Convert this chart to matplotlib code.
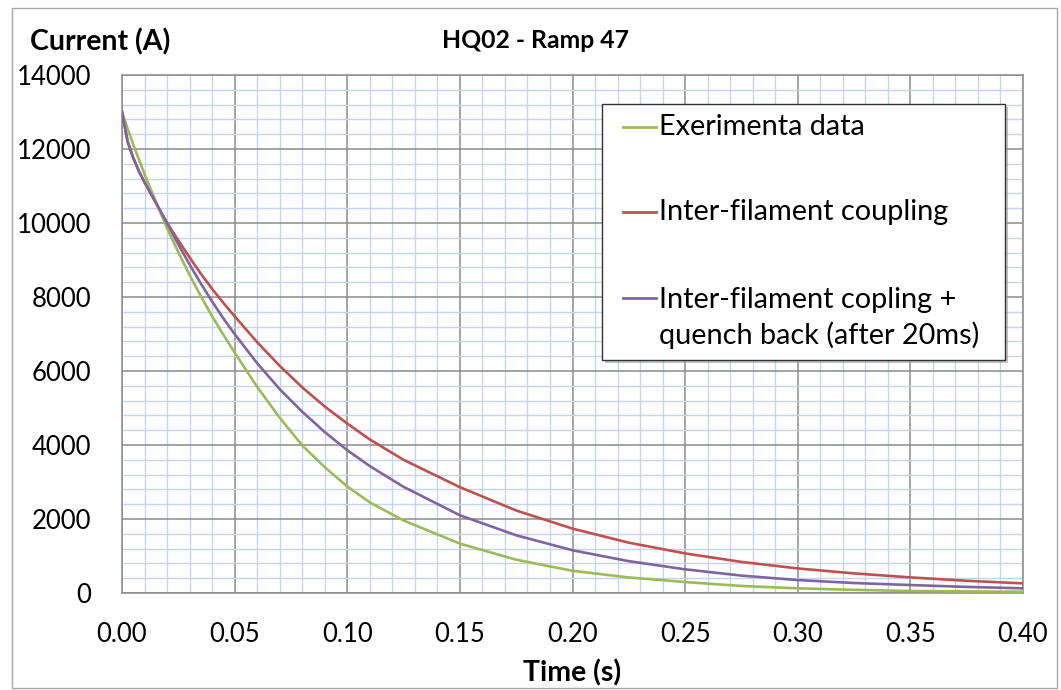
import matplotlib
matplotlib.use('Agg')
import matplotlib.pyplot as plt
from matplotlib.patches import Rectangle
from matplotlib.lines import Line2D
from matplotlib.ticker import MultipleLocator, FormatStrFormatter

# ---------------- data ----------------
time_s = [0.0, 0.0025, 0.005, 0.0075, 0.01, 0.015, 0.02, 0.025, 0.03, 0.035,
          0.04, 0.045, 0.05, 0.06, 0.07, 0.08, 0.09, 0.10, 0.11, 0.125,
          0.15, 0.175, 0.20, 0.225, 0.25, 0.275, 0.30, 0.325, 0.35, 0.375, 0.40]

experimental = [13000, 12550, 12120, 11720, 11320, 10580, 9860, 9210, 8600, 8020,
                7480, 6980, 6500, 5570, 4740, 3990, 3400, 2880, 2450, 1960,
                1335, 900, 600, 420, 296, 190, 126, 85, 54, 42, 35]

interfilament = [13000, 12200, 11760, 11400, 11100, 10550, 10000, 9530, 9070, 8630,
                 8220, 7840, 7480, 6780, 6140, 5560, 5040, 4580, 4150, 3600,
                 2860, 2230, 1740, 1360, 1070, 840, 664, 530, 422, 330, 260]

quenchback = [13000, 12200, 11760, 11400, 11100, 10550, 10000, 9420, 8880, 8365,
              7880, 7420, 7000, 6210, 5510, 4900, 4350, 3860, 3430, 2870,
              2100, 1560, 1155, 860, 640, 470, 350, 270, 215, 165, 126]

series_labels = ["Exerimenta data", "Inter-filament coupling",
                 "Inter-filament copling +\nquench back (after 20ms)"]
series_colors = ["#9BBB59", "#C0504D", "#8064A2"]

title_text = "HQ02 - Ramp 47"
ylabel_text = "Current (A)"
xlabel_text = "Time (s)"

# ---------------- figure ----------------
plt.rcParams['font.family'] = ['Lato', 'DejaVu Sans']

W, H = 1061, 690
fig = plt.figure(figsize=(W / 100, H / 100), dpi=100)


def fx(x):
    return x / W


def fy(y):
    return 1 - y / H


# chart-area border
fig.add_artist(Rectangle((fx(12), fy(688)), fx(1057) - fx(12), fy(8) - fy(688),
                         transform=fig.transFigure, fill=False,
                         edgecolor='#a6a6a6', lw=1.0))

ax = fig.add_axes([fx(122), fy(593), fx(1023) - fx(122), fy(75) - fy(593)])

ax.plot(time_s, interfilament, color=series_colors[1], lw=1.9, zorder=3)
ax.plot(time_s, experimental, color=series_colors[0], lw=1.9, zorder=3)
ax.plot(time_s, quenchback, color=series_colors[2], lw=1.9, zorder=3)

ax.set_xlim(0, 0.40)
ax.set_ylim(0, 14000)
ax.xaxis.set_major_locator(MultipleLocator(0.05))
ax.xaxis.set_minor_locator(MultipleLocator(0.01))
ax.yaxis.set_major_locator(MultipleLocator(2000))
ax.yaxis.set_minor_locator(MultipleLocator(400))
ax.xaxis.set_major_formatter(FormatStrFormatter('%.2f'))
ax.set_axisbelow(True)
ax.grid(which='minor', color='#c3d4ee', lw=1.0)
ax.grid(which='major', color='#8c8c8c', lw=1.1)
ax.tick_params(which='both', length=0)
ax.tick_params(axis='x', pad=21, labelsize=18.5)
ax.tick_params(axis='y', pad=22, labelsize=18.5)
for sp in ax.spines.values():
    sp.set_color('#8c8c8c')
    sp.set_linewidth(1.1)

# texts
fig.text(fx(30), fy(42), ylabel_text, fontweight='bold', fontsize=20.5,
         ha='left', va='center')
fig.text(fx(535), fy(41), title_text, fontweight='bold', fontsize=17.8,
         ha='center', va='center')
fig.text(fx(572), fy(673), xlabel_text, fontweight='bold', fontsize=20.5,
         ha='center', va='center')

# legend box (drawn manually to match layout)
lx0, ly0, lx1, ly1 = 602, 104, 1005, 360
fig.add_artist(Rectangle((fx(lx0 + 3), fy(ly1 + 3)), fx(lx1) - fx(lx0), fy(ly0) - fy(ly1),
                         transform=fig.transFigure, facecolor='#9a9a9a',
                         edgecolor='none', alpha=0.6, zorder=5))
fig.add_artist(Rectangle((fx(lx0), fy(ly1)), fx(lx1) - fx(lx0), fy(ly0) - fy(ly1),
                         transform=fig.transFigure, facecolor='white',
                         edgecolor='#333333', lw=1.0, zorder=6))
entry_y = [127, 212, 318]
handle_y = [127, 212, 298]
for lab, col, ty, hy in zip(series_labels, series_colors, entry_y, handle_y):
    fig.add_artist(Line2D([fx(623), fx(656)], [fy(hy), fy(hy)],
                          transform=fig.transFigure, color=col, lw=2.0, zorder=7))
    fig.text(fx(659), fy(ty), lab, fontsize=20.8, ha='left', va='center',
             linespacing=1.4, zorder=7)

fig.savefig('out.png', dpi=100, facecolor='white')
